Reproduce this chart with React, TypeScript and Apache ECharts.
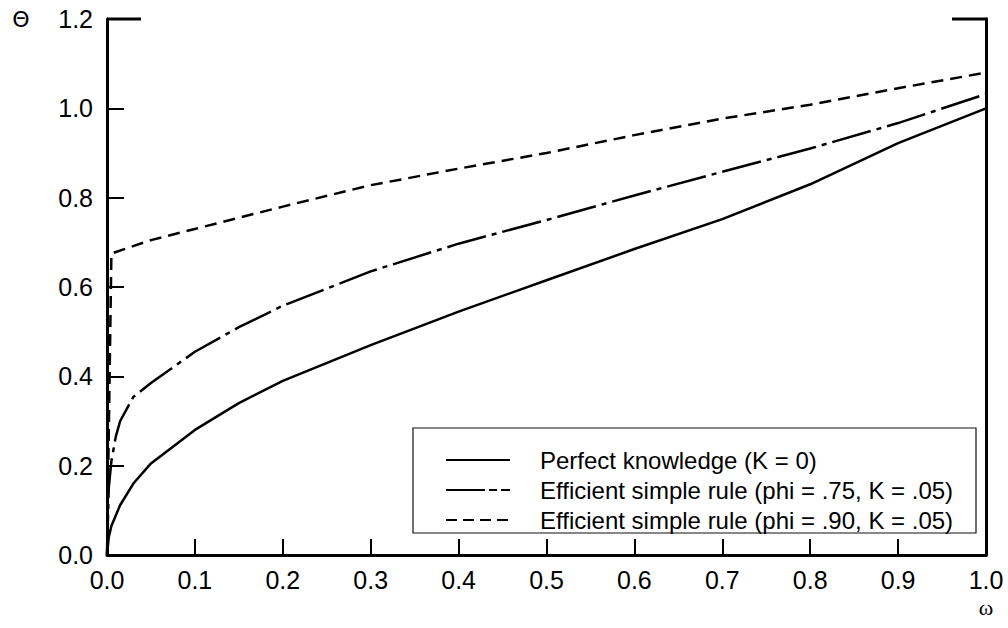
import React, { useEffect, useRef } from "react";
import * as echarts from "echarts";

const omegaPerfect = [0, 0.002, 0.005, 0.015, 0.03, 0.05, 0.1, 0.15, 0.2, 0.3, 0.4, 0.5, 0.6, 0.7, 0.8, 0.9, 1.0];
const thetaPerfect = [0, 0.04, 0.065, 0.112, 0.16, 0.205, 0.28, 0.34, 0.39, 0.47, 0.545, 0.615, 0.685, 0.752, 0.83, 0.922, 1.0];

const omegaPhi75 = [0, 0.002, 0.005, 0.01, 0.015, 0.03, 0.05, 0.1, 0.15, 0.2, 0.3, 0.4, 0.5, 0.6, 0.7, 0.8, 0.9, 1.0];
const thetaPhi75 = [0, 0.15, 0.21, 0.265, 0.3, 0.354, 0.385, 0.455, 0.51, 0.558, 0.635, 0.697, 0.75, 0.805, 0.858, 0.91, 0.967, 1.032];

const omegaPhi90 = [0, 0.005, 0.05, 0.1, 0.2, 0.3, 0.4, 0.5, 0.6, 0.7, 0.8, 0.9, 1.0];
const thetaPhi90 = [0, 0.675, 0.705, 0.73, 0.78, 0.828, 0.865, 0.9, 0.94, 0.977, 1.008, 1.045, 1.08];

const seriesNames = [
  "Perfect knowledge (K = 0)",
  "Efficient simple rule (phi = .75, K = .05)",
  "Efficient simple rule (phi = .90, K = .05)",
];

const xMin = 0, xMax = 1.0, xStep = 0.1;
const yMin = 0, yMax = 1.2, yStep = 0.2;

const pair = (xs: number[], ys: number[]) => xs.map((x, i) => [x, ys[i]]);

const FONT = "'Liberation Sans', Arial, Helvetica, sans-serif";

export default function App() {
  const ref = useRef<HTMLDivElement>(null);
  useEffect(() => {
    if (!ref.current) return;
    const chart = echarts.init(ref.current, undefined, { renderer: "svg" });
    const gl = 107, gt = 19, gr = 986, gb = 555;
    const lgX = 413, lgY = 428, lgW = 563, lgH = 105;
    const rows = [460, 490, 520];
    const dashes: (number[] | null)[] = [null, [39, 4, 8, 4, 10, 20], [11, 6]];
    const legendGraphics: any[] = [
      {
        type: "rect",
        shape: { x: lgX, y: lgY, width: lgW, height: lgH },
        style: { fill: "#fff", stroke: "#111", lineWidth: 1.2 },
        z: 10,
      },
    ];
    rows.forEach((y, i) => {
      legendGraphics.push({
        type: "line",
        shape: { x1: 446, y1: y, x2: 510, y2: y },
        style: { stroke: "#000", lineWidth: 2, lineDash: dashes[i] || undefined },
        z: 11,
      });
      legendGraphics.push({
        type: "text",
        x: 540,
        y: y,
        style: {
          text: seriesNames[i],
          font: `24px ${FONT}`,
          fill: "#000",
          verticalAlign: "middle",
          align: "left",
        },
        z: 11,
      });
    });

    chart.setOption({
      animation: false,
      backgroundColor: "#fff",
      grid: { left: gl, top: gt, right: 1008 - gr, bottom: 628 - gb, containLabel: false },
      xAxis: {
        type: "value",
        min: xMin,
        max: xMax,
        interval: xStep,
        axisLine: { show: true, onZero: false, lineStyle: { color: "#000", width: 3 } },
        axisTick: { show: true, inside: true, length: 16, lineStyle: { color: "#000", width: 2 } },
        axisLabel: {
          color: "#000",
          fontSize: 25,
          fontFamily: FONT,
          margin: 12,
          formatter: (v: number) => v.toFixed(1),
        },
        splitLine: { show: false },
      },
      yAxis: [
        {
          type: "value",
          min: yMin,
          max: yMax,
          interval: yStep,
          axisLine: { show: true, onZero: false, lineStyle: { color: "#000", width: 3 } },
          axisTick: { show: true, inside: true, length: 17, lineStyle: { color: "#000", width: 2 } },
          axisLabel: {
            color: "#000",
            fontSize: 25,
            fontFamily: FONT,
            margin: 14,
            formatter: (v: number) => v.toFixed(1),
          },
          splitLine: { show: false },
        },
        {
          type: "value",
          position: "right",
          min: yMin,
          max: yMax,
          interval: yStep,
          axisLine: { show: true, onZero: false, lineStyle: { color: "#000", width: 3 } },
          axisTick: { show: false },
          axisLabel: { show: false },
          splitLine: { show: false },
        },
      ],
      series: [
        {
          name: seriesNames[0],
          type: "line",
          data: pair(omegaPerfect, thetaPerfect),
          showSymbol: false,
          symbol: "none",
          lineStyle: { color: "#000", width: 2.5, type: "solid" },
          z: 3,
        },
        {
          name: seriesNames[1],
          type: "line",
          data: pair(omegaPhi75, thetaPhi75),
          showSymbol: false,
          symbol: "none",
          lineStyle: { color: "#000", width: 2.5, type: [40, 6, 5, 6] },
          z: 3,
        },
        {
          name: seriesNames[2],
          type: "line",
          data: pair(omegaPhi90, thetaPhi90),
          showSymbol: false,
          symbol: "none",
          lineStyle: { color: "#000", width: 2.5, type: [12, 7] },
          z: 3,
        },
      ],
      graphic: [
        {
          type: "line",
          shape: { x1: gl, y1: gt, x2: gl + 34, y2: gt },
          style: { stroke: "#000", lineWidth: 3 },
        },
        {
          type: "line",
          shape: { x1: gr - 34, y1: gt, x2: gr + 1.5, y2: gt },
          style: { stroke: "#000", lineWidth: 3 },
        },
        {
          type: "text",
          x: 21,
          y: 19,
          style: {
            text: "Θ",
            font: "22px 'DejaVu Sans', 'Liberation Sans', sans-serif",
            fill: "#000",
            align: "center",
            verticalAlign: "middle",
          },
        },
        {
          type: "text",
          x: 986,
          y: 607,
          style: {
            text: "ω",
            font: "22px 'Liberation Serif', 'DejaVu Serif', serif",
            fill: "#000",
            align: "center",
            verticalAlign: "middle",
          },
        },
        ...legendGraphics,
      ],
    });
    return () => chart.dispose();
  }, []);
  return (
    <div
      ref={ref}
      style={{ position: "fixed", left: 0, top: 0, width: 1008, height: 628, background: "#fff" }}
    />
  );
}
